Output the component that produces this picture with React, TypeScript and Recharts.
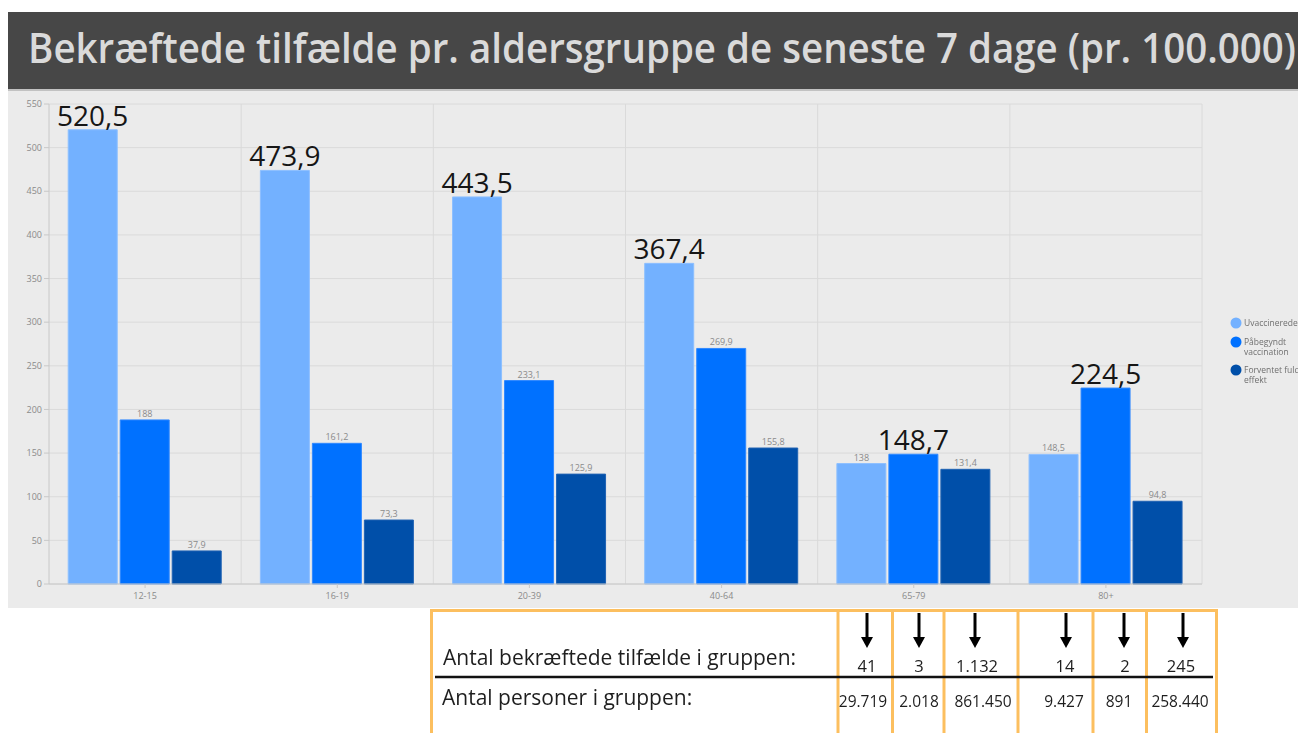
import React from 'react';
import { BarChart, Bar, XAxis, YAxis, CartesianGrid } from 'recharts';

// ---------- data ----------
const categories = ['12-15', '16-19', '20-39', '40-64', '65-79', '80+'];
const uvaccinerede = [520.5, 473.9, 443.5, 367.4, 138, 148.5];
const paabegyndt = [188, 161.2, 233.1, 269.9, 148.7, 224.5];
const forventet = [37.9, 73.3, 125.9, 155.8, 131.4, 94.8];
const yTicks = [0, 50, 100, 150, 200, 250, 300, 350, 400, 450, 500, 550];
const seriesKeys = ['u', 'p', 'f'];
const seriesNames = ['Uvaccinerede', 'Påbegyndt vaccination', 'Forventet fuld effekt'];
const legendLines = [['Uvaccinerede'], ['Påbegyndt', 'vaccination'], ['Forventet fuld', 'effekt']];
const titleText = 'Bekræftede tilfælde pr. aldersgruppe de seneste 7 dage (pr. 100.000)';
const tableRow1Label = 'Antal bekræftede tilfælde i gruppen:';
const tableRow2Label = 'Antal personer i gruppen:';
const casesInGroup = ['41', '3', '1.132', '14', '2', '245'];
const personsInGroup = ['29.719', '2.018', '861.450', '9.427', '891', '258.440'];

// ---------- styles / layout ----------
const seriesFill = ['#73b1ff', '#0071ff', '#004fa9'];
const seriesStroke = ['#8cbfff', '#2f88ff', '#1f62b3'];
const FONT = '"Open Sans", "Noto Sans", sans-serif';
const ORANGE = '#fcbf5f';
// table geometry (page coords minus 8px body margin)
const OFF = 8;
const tableLeft = 431.5 - OFF;
const tableRight = 1216.5 - OFF;
const tableTop = 610.5 - OFF;
const dividerX = [838, 892.5, 944, 1018, 1093, 1146.5].map((v) => v - OFF);
const arrowX = [867, 919, 975, 1066, 1124, 1183].map((v) => v - OFF);
const row1X = [867, 919, 977, 1065, 1125, 1181].map((v) => v - OFF);
const row2X = [863, 919, 983, 1064, 1119, 1180].map((v) => v - OFF);

const data = categories.map((c, i) => ({
  name: c,
  u: uvaccinerede[i],
  p: paabegyndt[i],
  f: forventet[i],
}));

const fmt = (v: number) => String(v).replace('.', ',');

const makeLabel = (key: string) => (props: any) => {
  const { x, y, width, value, index } = props;
  const row: any = data[index];
  const max = Math.max(...seriesKeys.map((k) => row[k]));
  const cx = Number(x) + Number(width) / 2;
  if (value === max) {
    return (
      <text key={key + index} x={cx} y={Number(y) - 4} textAnchor="middle" fontSize={28} fill="#161616" fontFamily={FONT}>
        {fmt(value)}
      </text>
    );
  }
  return (
    <text key={key + index} x={cx} y={Number(y) - 3} textAnchor="middle" fontSize={9} fill="#8a8a8a" fontFamily={FONT}>
      {fmt(value)}
    </text>
  );
};

export default function App() {
  return (
    <>
      <style>{`html, body { overflow: hidden; }`}</style>
      <div style={{ position: 'fixed', left: 8, top: 8, width: 1290, height: 725, fontFamily: FONT, overflow: 'hidden' }}>
        {/* title bar */}
        <div style={{ position: 'absolute', left: 0, top: 4, width: 1290, height: 77, background: '#474747', borderBottom: '2px solid #c2c2c2' }}>
          <svg width={1290} height={77} style={{ display: 'block' }}>
            <text x={20} y={51} fontSize={41} fontWeight={600} fill="#dadada" fontFamily={FONT} textLength={1268} lengthAdjust="spacingAndGlyphs">
              {titleText}
            </text>
          </svg>
        </div>

        {/* chart */}
        <div style={{ position: 'absolute', left: 0, top: 83, width: 1290, height: 517, background: '#ebebeb' }}>
          <BarChart
            width={1290}
            height={517}
            data={data}
            margin={{ top: 13, right: 96, bottom: 0, left: 0 }}
            barCategoryGap="10%"
            barGap={3}
          >
            <CartesianGrid
              stroke="#dadada"
              strokeWidth={1}
              verticalCoordinatesGenerator={({ offset }: any) =>
                categories.map((_, i) => offset.left + ((i + 1) * offset.width) / categories.length)
              }
            />
            <XAxis
              dataKey="name"
              height={24}
              tickSize={4}
              tickMargin={5}
              axisLine={{ stroke: '#c8c8c8' }}
              tickLine={{ stroke: '#c8c8c8' }}
              tick={{ fontSize: 9, fill: '#8a8a8a', fontFamily: FONT }}
              interval={0}
            />
            <YAxis
              width={41}
              domain={[0, 550]}
              ticks={yTicks}
              tickSize={5}
              tickMargin={2}
              axisLine={{ stroke: '#c8c8c8' }}
              tickLine={{ stroke: '#c8c8c8' }}
              tick={{ fontSize: 9, fill: '#8a8a8a', fontFamily: FONT }}
              interval={0}
            />
            {seriesKeys.map((k, i) => (
              <Bar
                key={k}
                dataKey={k}
                name={seriesNames[i]}
                fill={seriesFill[i]}
                stroke={seriesStroke[i]}
                strokeWidth={1}
                isAnimationActive={false}
                label={makeLabel(k)}
              />
            ))}
          </BarChart>
        </div>

        {/* overlay: legend + table */}
        <svg width={1290} height={725} style={{ position: 'absolute', left: 0, top: 0, pointerEvents: 'none' }}>
          {/* legend */}
          {legendLines.map((lines, i) => {
            const cy = [323, 342, 370][i] - OFF;
            return (
              <g key={i}>
                <circle cx={1236 - OFF} cy={cy} r={5.5} fill={seriesFill[i]} />
                {lines.map((ln, j) => (
                  <text key={j} x={1244 - OFF} y={cy + 3 + j * 10} fontSize={8.5} fill="#6f6f6f" fontFamily={FONT}>
                    {ln}
                  </text>
                ))}
              </g>
            );
          })}

          {/* table */}
          <line x1={tableLeft} y1={tableTop - 1.5} x2={tableLeft} y2={740} stroke={ORANGE} strokeWidth={3} />
          <line x1={tableRight} y1={tableTop - 1.5} x2={tableRight} y2={740} stroke={ORANGE} strokeWidth={3} />
          <line x1={tableLeft - 1.5} y1={tableTop} x2={tableRight + 1.5} y2={tableTop} stroke={ORANGE} strokeWidth={3} />
          {dividerX.map((x, i) => (
            <line key={i} x1={x} y1={tableTop} x2={x} y2={740} stroke={ORANGE} strokeWidth={3} />
          ))}
          <line x1={435 - OFF} y1={677 - OFF} x2={1213 - OFF} y2={677 - OFF} stroke="#111" strokeWidth={2.5} />
          <text x={443 - OFF} y={665 - OFF} fontSize={21} fill="#1e1e1e" fontFamily={FONT}>
            {tableRow1Label}
          </text>
          <text x={442 - OFF} y={705 - OFF} fontSize={21} fill="#1e1e1e" fontFamily={FONT}>
            {tableRow2Label}
          </text>
          {arrowX.map((x, i) => (
            <g key={i}>
              <line x1={x} y1={613 - OFF} x2={x} y2={640 - OFF} stroke="#000" strokeWidth={3} />
              <polygon points={`${x - 6},${637 - OFF} ${x + 6},${637 - OFF} ${x},${648 - OFF}`} fill="#000" />
            </g>
          ))}
          {casesInGroup.map((t, i) => (
            <text key={i} x={row1X[i]} y={672 - OFF} textAnchor="middle" fontSize={16.5} fill="#1e1e1e" fontFamily={FONT}>
              {t}
            </text>
          ))}
          {personsInGroup.map((t, i) => (
            <text key={i} x={row2X[i]} y={707 - OFF} textAnchor="middle" fontSize={15.5} fill="#1e1e1e" fontFamily={FONT}>
              {t}
            </text>
          ))}
        </svg>
      </div>
    </>
  );
}
